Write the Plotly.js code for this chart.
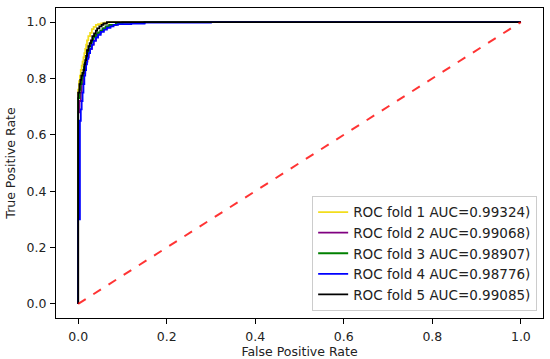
<!DOCTYPE html>
<html>
<head>
<meta charset="utf-8">
<script src="https://cdn.plot.ly/plotly-3.0.1.min.js"></script>
<style>html,body{margin:0;padding:0;background:#fff}#chart{width:550px;height:359px}</style>
</head>
<body>
<div id="chart"></div>
<script>
// Fold 1 (yellow)
const fpr1 = [0, 0, 0.002, 0.004, 0.006, 0.008, 0.010, 0.012, 0.014, 0.016, 0.018, 0.020, 0.023, 0.027, 0.031, 0.035, 0.040, 0.045, 0.052, 0.060, 0.070, 0.080, 1];
const tpr1 = [0, 0.73, 0.76, 0.79, 0.81, 0.83, 0.845, 0.86, 0.875, 0.89, 0.905, 0.92, 0.935, 0.95, 0.962, 0.975, 0.983, 0.99, 0.993, 0.995, 0.998, 1, 1];
// Fold 2 (purple)
const fpr2 = [0, 0, 0.003, 0.006, 0.008, 0.011, 0.013, 0.016, 0.018, 0.021, 0.024, 0.027, 0.031, 0.035, 0.040, 0.045, 0.051, 0.058, 0.066, 0.075, 0.087, 0.10, 0.15, 0.20, 1];
const tpr2 = [0, 0.63, 0.68, 0.72, 0.75, 0.78, 0.80, 0.82, 0.84, 0.86, 0.875, 0.89, 0.905, 0.92, 0.935, 0.95, 0.96, 0.97, 0.978, 0.985, 0.99, 0.995, 0.998, 1, 1];
// Fold 3 (green)
const fpr3 = [0, 0, 0.003, 0.005, 0.008, 0.010, 0.013, 0.015, 0.018, 0.020, 0.023, 0.026, 0.030, 0.034, 0.040, 0.045, 0.050, 0.055, 0.062, 0.070, 0.085, 0.10, 0.15, 0.25, 1];
const tpr3 = [0, 0.70, 0.73, 0.76, 0.78, 0.80, 0.82, 0.84, 0.855, 0.87, 0.885, 0.90, 0.915, 0.93, 0.945, 0.955, 0.963, 0.97, 0.978, 0.985, 0.99, 0.995, 0.998, 1, 1];
// Fold 4 (blue)
const fpr4 = [0, 0, 0.004, 0.004, 0.006, 0.008, 0.010, 0.012, 0.014, 0.016, 0.018, 0.020, 0.023, 0.027, 0.031, 0.035, 0.040, 0.045, 0.051, 0.058, 0.065, 0.073, 0.08, 0.09, 0.12, 0.15, 0.30, 0.50, 1];
const tpr4 = [0, 0.28, 0.30, 0.60, 0.65, 0.69, 0.72, 0.75, 0.78, 0.81, 0.83, 0.85, 0.87, 0.89, 0.905, 0.92, 0.933, 0.945, 0.955, 0.965, 0.973, 0.98, 0.985, 0.99, 0.993, 0.995, 0.998, 1, 1];
// Fold 5 (black)
const fpr5 = [0, 0, 0.003, 0.005, 0.007, 0.010, 0.012, 0.014, 0.016, 0.018, 0.020, 0.023, 0.026, 0.029, 0.032, 0.036, 0.040, 0.043, 0.048, 0.053, 0.057, 0.065, 0.080, 1];
const tpr5 = [0, 0.72, 0.75, 0.78, 0.795, 0.81, 0.82, 0.83, 0.85, 0.865, 0.88, 0.90, 0.915, 0.925, 0.935, 0.95, 0.96, 0.97, 0.978, 0.985, 0.99, 0.995, 1, 1];
// Chance line
const chanceX = [0, 1];
const chanceY = [0, 1];

const labels = ["ROC fold 1 AUC=0.99324)", "ROC fold 2 AUC=0.99068)", "ROC fold 3 AUC=0.98907)", "ROC fold 4 AUC=0.98776)", "ROC fold 5 AUC=0.99085)"];
const colors = ["#f2dd1c", "#800080", "#008000", "#0000ff", "#000000"];
const fprs = [fpr1, fpr2, fpr3, fpr4, fpr5];
const tprs = [tpr1, tpr2, tpr3, tpr4, tpr5];

const traces = fprs.map((f, i) => ({
  x: f, y: tprs[i], type: 'scatter', mode: 'lines', name: labels[i],
  line: {color: colors[i], width: 1.8, shape: 'vh'}
}));
traces.push({
  x: chanceX, y: chanceY, type: 'scatter', mode: 'lines', showlegend: false,
  line: {color: 'rgba(255,0,0,0.8)', width: 2, dash: 'dash'}
});

const axisCommon = {
  showgrid: false, zeroline: false, showline: true, mirror: true,
  linecolor: '#000', linewidth: 1, ticks: 'outside', ticklen: 5, tickcolor: '#000',
  tickfont: {family: 'DejaVu Sans', size: 12.5, color: '#222'}
};

const layout = {
  width: 550, height: 359,
  margin: {l: 56, r: 7, t: 8, b: 41},
  paper_bgcolor: '#fff', plot_bgcolor: '#fff',
  font: {family: 'DejaVu Sans', color: '#222'},
  xaxis: Object.assign({}, axisCommon, {
    range: [-0.05, 1.05], tickvals: [0, 0.2, 0.4, 0.6, 0.8, 1.0],
    ticktext: ['0.0', '0.2', '0.4', '0.6', '0.8', '1.0'],
    ticklabelstandoff: 2,
    title: {text: 'False Positive Rate', font: {size: 12.5, family: 'DejaVu Sans', color: '#222'}, standoff: 3}
  }),
  yaxis: Object.assign({}, axisCommon, {
    range: [-0.05, 1.05], tickvals: [0, 0.2, 0.4, 0.6, 0.8, 1.0],
    ticktext: ['0.0', '0.2', '0.4', '0.6', '0.8', '1.0'],
    ticklabelstandoff: 1,
    title: {text: 'True Positive Rate', font: {size: 12.5, family: 'DejaVu Sans', color: '#222'}, standoff: 8}
  }),
  legend: {
    x: 0.988, y: 0.023, xanchor: 'right', yanchor: 'bottom',
    bgcolor: 'rgba(255,255,255,0.85)', bordercolor: '#cccccc', borderwidth: 1,
    font: {family: 'DejaVu Sans', size: 13.5, color: '#222'},
    tracegroupgap: 0, itemwidth: 30
  },
  showlegend: true
};

Plotly.newPlot('chart', traces, layout, {displayModeBar: false, staticPlot: true});
</script>
</body>
</html>
